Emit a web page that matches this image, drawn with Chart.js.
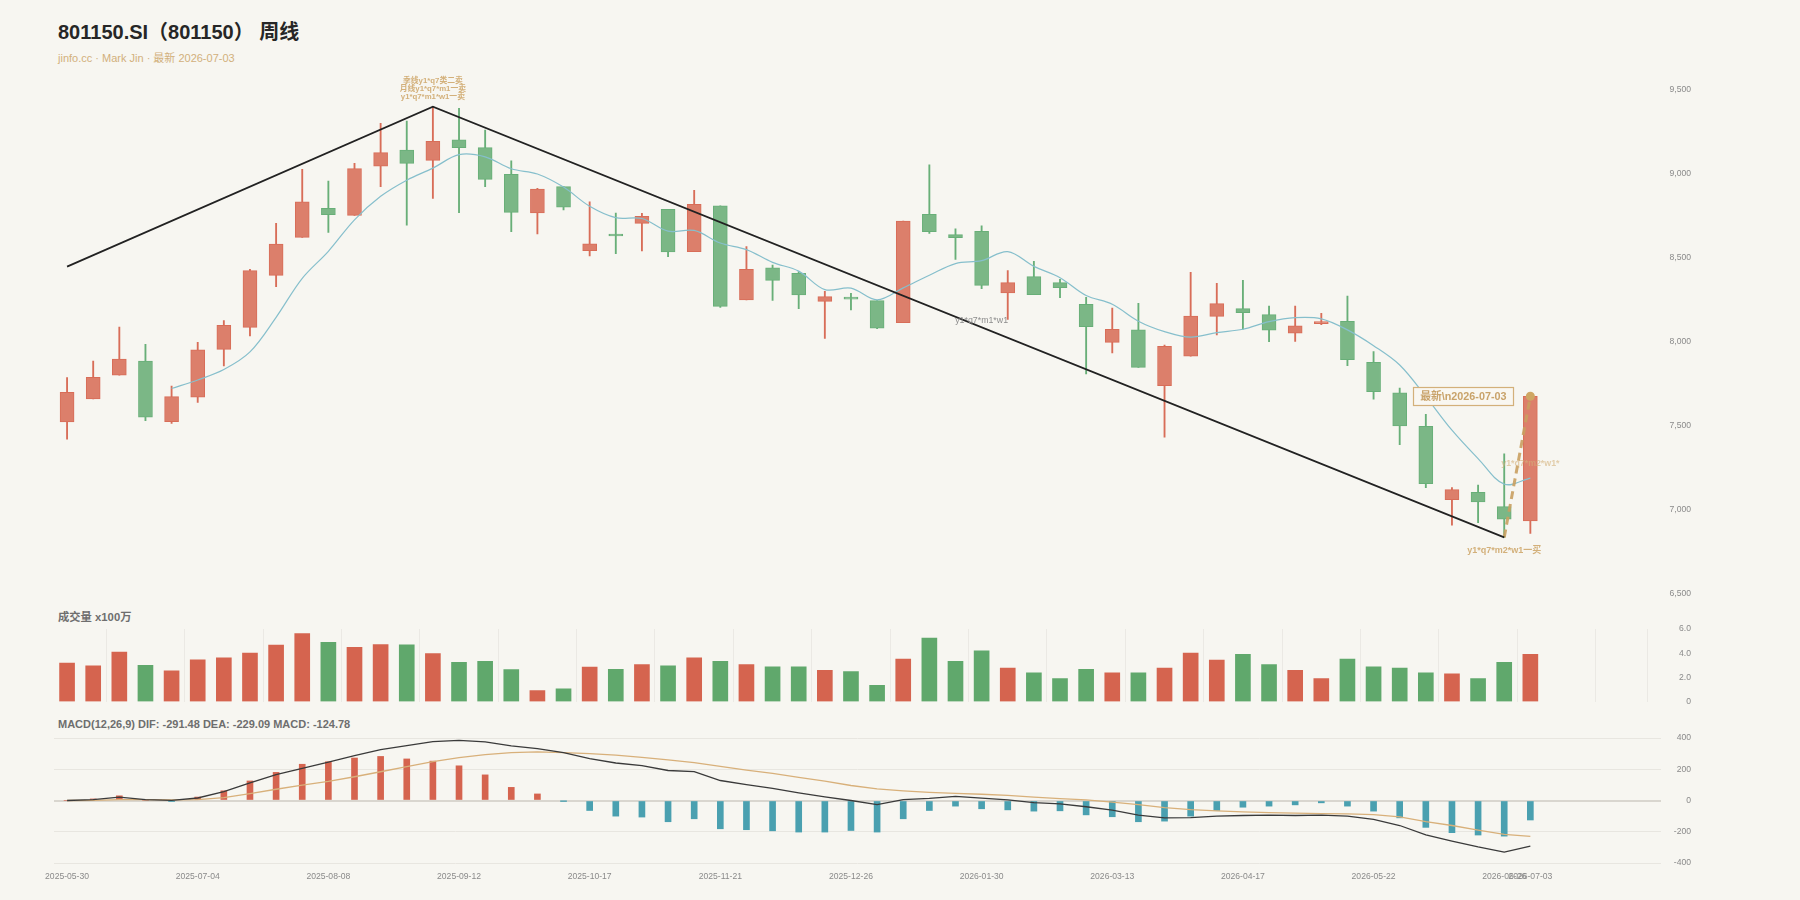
<!DOCTYPE html>
<html><head><meta charset="utf-8">
<script src="https://cdn.jsdelivr.net/npm/chart.js@4.4.1/dist/chart.umd.min.js"></script>
<style>
html,body{margin:0;padding:0;background:#f7f6f1;}
body{width:1800px;height:900px;position:relative;overflow:hidden;font-family:'Liberation Sans','Noto Sans CJK SC',sans-serif;}
.t{position:absolute;white-space:nowrap;}
#title{left:58px;top:19px;font-size:20px;font-weight:bold;color:#262626;line-height:26px;}
#sub{left:58px;top:51px;font-size:11px;color:#d2b07c;line-height:14px;}
#vlab{left:58px;top:610px;font-size:11.3px;font-weight:bold;color:#6e6e6e;line-height:14px;}
#mlab{left:58px;top:717px;font-size:11px;font-weight:bold;color:#6e6e6e;line-height:14px;}
.box{position:absolute;left:0;}
canvas{display:block;}
</style></head>
<body>
<div id="title" class="t">801150.SI（801150） 周线</div>
<div id="sub" class="t">jinfo.cc · Mark Jin · 最新 2026-07-03</div>
<div id="vlab" class="t">成交量 x100万</div>
<div id="mlab" class="t">MACD(12,26,9) DIF: -291.48 DEA: -229.09 MACD: -124.78</div>
<div class="box" style="top:0;width:1800px;height:610px"><canvas id="cMain" width="1800" height="610"></canvas></div>
<div class="box" style="top:600px;width:1800px;height:115px"><canvas id="cVol" width="1800" height="115"></canvas></div>
<div class="box" style="top:715px;width:1800px;height:185px"><canvas id="cMacd" width="1800" height="185"></canvas></div>
<script>
// ---------- data ----------
const dates = ['2025-05-30','2025-06-06','2025-06-13','2025-06-20','2025-06-27','2025-07-04','2025-07-11','2025-07-18','2025-07-25','2025-08-01',
'2025-08-08','2025-08-15','2025-08-22','2025-08-29','2025-09-05','2025-09-12','2025-09-19','2025-09-26','2025-10-03','2025-10-10',
'2025-10-17','2025-10-24','2025-10-31','2025-11-07','2025-11-14','2025-11-21','2025-11-28','2025-12-05','2025-12-12','2025-12-19',
'2025-12-26','2026-01-02','2026-01-09','2026-01-16','2026-01-23','2026-01-30','2026-02-06','2026-02-13','2026-02-27','2026-03-06',
'2026-03-13','2026-03-20','2026-03-27','2026-04-03','2026-04-10','2026-04-17','2026-04-24','2026-04-30','2026-05-08','2026-05-15',
'2026-05-22','2026-05-29','2026-06-05','2026-06-12','2026-06-19','2026-06-26','2026-07-03'];
const openP = [7521,7658,7799,7884,7523,7668,7953,8084,8394,8620,8793,8751,9043,9140,9078,9201,9154,8995,8765,8922,
8541,8634,8703,8787,8535,8807,8247,8438,8406,8239,8260,8243,8112,8757,8636,8656,8289,8386,8350,8221,
7995,8070,7737,7912,8150,8196,8160,8049,8106,8120,7876,7694,7495,7059,7102,7017,6932];
const highP = [7785,7884,8086,7983,7735,7995,8124,8430,8703,9025,8955,9060,9299,9312,9398,9388,9259,9076,8912,8922,
8832,8765,8763,8787,8900,8807,8565,8455,8416,8299,8287,8243,8717,9051,8670,8688,8422,8477,8370,8263,
8199,8227,7979,8412,8346,8364,8211,8211,8168,8271,7940,7723,7567,7130,7146,7332,7674];
const lowP = [7418,7658,7799,7529,7513,7638,7854,8033,8326,8620,8650,8751,8922,8692,8852,8767,8922,8654,8640,8783,
8509,8523,8539,8505,8535,8203,8247,8245,8195,8019,8188,8076,8112,8644,8489,8315,8132,8279,8261,7807,
7932,7846,7430,7912,8039,8074,7999,8001,8100,7856,7656,7386,7130,6906,6922,6834,6858];
const closeP = [7697,7787,7896,7549,7672,7951,8096,8422,8580,8832,8755,9029,9124,9060,9191,9154,8965,8769,8908,8799,
8582,8628,8745,8533,8817,8209,8430,8364,8277,8267,8252,8080,8717,8654,8618,8334,8350,8279,8320,8088,
8072,7846,7971,8152,8225,8172,8068,8094,8118,7892,7701,7497,7154,7118,7045,6942,7674];
const ma5 = [null,null,null,null,7720,7771,7833,7938,8144,8376,8537,8724,8864,8960,9032,9112,9099,9028,8997,8919,
8805,8737,8732,8657,8661,8586,8547,8471,8419,8309,8318,8248,8319,8394,8464,8481,8535,8447,8380,8274,
8222,8121,8059,8026,8053,8073,8118,8142,8135,8069,7975,7860,7672,7472,7303,7151,7187];
const volume = [3.17,2.95,4.10,3.00,2.53,3.44,3.61,4.00,4.66,5.62,4.90,4.49,4.71,4.68,3.97,3.25,3.33,2.64,0.91,1.05,
2.84,2.67,3.05,2.95,3.62,3.33,3.05,2.86,2.86,2.57,2.48,1.33,3.52,5.24,3.33,4.19,2.76,2.38,1.90,2.67,
2.38,2.38,2.76,4.00,3.43,3.90,3.05,2.57,1.90,3.52,2.86,2.76,2.38,2.29,1.90,3.24,3.90];
const dif = [0,6,21,6,1,16,57,113,166,206,245,287,326,351,377,385,375,349,332,306,
268,240,223,192,185,128,102,77,49,23,0,-26,5,13,26,15,4,-13,-21,-40,
-62,-94,-111,-109,-100,-96,-94,-96,-94,-100,-121,-160,-220,-260,-297,-330,-291.48];
const dea = [0,1,5,5,4,6,19,44,72,98,123,152,184,217,249,274,293,307,311,307,
300,290,276,260,243,218,195,173,148,124,96,75,62,52,45,40,33,21,12,4,
-11,-27,-45,-58,-67,-73,-77,-81,-84,-86,-90,-105,-135,-160,-190,-217,-229.09];
const macdHist = [0,10,30,2,-4,22,62,125,180,232,248,272,282,266,252,222,164,84,42,-2,
-64,-100,-106,-136,-117,-181,-187,-194,-202,-202,-192,-202,-117,-64,-36,-53,-60,-68,-66,-92,
-104,-136,-132,-100,-64,-43,-36,-28,-15,-36,-68,-111,-172,-206,-221,-228,-124.78];
// trend lines (index, value)
const trendIdx = [0,14,55];
const trendVal = [8446,9398,6834];
const dashIdx = [55,56];
const dashVal = [6834,7674];
// tick labels
const priceTicks = [6500,7000,7500,8000,8500,9000,9500];
const volTicks = [0,2,4,6];
const macdTicks = [-400,-200,0,200,400];
const dateTickIdx = [0,5,10,15,20,25,30,35,40,45,50,55,56];
const volGridIdx = [0,3,6,9,12,15,18,21,24,27,30,33,36,39,42,45,48,51,54,57,60,61];

// ---------- styling ----------
const FF = "'Liberation Sans','Noto Sans CJK SC',sans-serif";
Chart.defaults.font.family = FF;
Chart.defaults.animation = false;
Chart.defaults.plugins.legend.display = false;
Chart.defaults.plugins.tooltip.enabled = false;
const RED_B='#dc7f6b', GRN_B='#7bb786', RED_W='#d86d58', GRN_W='#68af78';
const RED_V='#d5644f', GRN_V='#60a86c', TEAL='#4aa0b0';
const TAN='#d3b07a';
const XMIN=-0.5, XMAX=61;
const PAD = {left:54, right:109};
const idx = dates.map((d,i)=>i);
const up = idx.map(i=>closeP[i]>=openP[i]);

function xAxis(extra){
  return Object.assign({type:'linear',min:XMIN,max:XMAX,offset:false,bounds:'ticks'},extra);
}
function rightAxis(min,max,ticks,fmt,gridOpts){
  return {position:'right',min:min,max:max,
    afterFit:s=>{s.width=30;},
    afterBuildTicks:s=>{s.ticks=ticks.map(v=>({value:v}));},
    border:{display:false},
    grid:gridOpts||{display:false},
    ticks:{crossAlign:'far',padding:0,color:'#8a8a8a',font:{size:8.6,family:FF},callback:fmt}};
}

// annotation plugin for main chart
const notes = [
  {i:14, v:9398, lines:['季线y1*q7类二卖','月线y1*q7*m1一卖','y1*q7*m1*w1一卖'], color:TAN, font:'bold 7.8px '+FF, dy:-10, lh:8.1},
  {i:35, v:8124, lines:['y1*q7*m1*w1'], color:'#8d8d8d', font:'8.8px '+FF, dy:0, lh:10},
  {i:56, v:7271, lines:['y1*q7*m2*w1*'], color:'rgba(211,176,122,0.6)', font:'bold 8.8px '+FF, dy:0, lh:10},
  {i:55, v:6834, lines:['y1*q7*m2*w1一买'], color:TAN, font:'bold 9px '+FF, dy:13, lh:10}
];
const latestBox = {i:56, v:7674, text:'最新\\n2026-07-03', dx:-67, w:100, h:18};
const notePlugin = {id:'notes', afterDatasetsDraw(chart){
  const ctx=chart.ctx, xs=chart.scales.x, ys=chart.scales.y;
  ctx.save();
  ctx.textAlign='center'; ctx.textBaseline='middle';
  notes.forEach(n=>{
    const x=xs.getPixelForValue(n.i), y=ys.getPixelForValue(n.v)+n.dy;
    ctx.font=n.font; ctx.fillStyle=n.color;
    const L=n.lines.length;
    n.lines.forEach((t,k)=>ctx.fillText(t,x,y-(L-1-k)*n.lh));
  });
  const bx=xs.getPixelForValue(latestBox.i)+latestBox.dx, by=ys.getPixelForValue(latestBox.v);
  ctx.fillStyle='#f9f7f1';
  ctx.fillRect(bx-latestBox.w/2,by-latestBox.h/2,latestBox.w,latestBox.h);
  ctx.strokeStyle='#d3b07a'; ctx.lineWidth=1.2;
  ctx.strokeRect(Math.round(bx-latestBox.w/2)+0.5,Math.round(by-latestBox.h/2)+0.5,latestBox.w,latestBox.h);
  ctx.font='bold 10.8px '+FF; ctx.fillStyle='#c9a36a';
  ctx.fillText(latestBox.text,bx,by+0.5);
  ctx.restore();
}};

// ---------- main chart ----------
new Chart(document.getElementById('cMain'),{
  type:'bar',
  data:{datasets:[
    {type:'line',order:0,data:trendIdx.map((x,k)=>({x:x,y:trendVal[k]})),borderColor:'#222',borderWidth:1.8,pointRadius:0,tension:0},
    {type:'line',order:0,data:dashIdx.map((x,k)=>({x:x,y:dashVal[k]})),borderColor:'rgba(201,160,96,0.9)',borderWidth:3,borderDash:[8,5],
      pointRadius:[0,4.5],pointBackgroundColor:'#cfa764',pointBorderWidth:0,tension:0},
    {type:'line',order:1,data:idx.map(i=>({x:i,y:ma5[i]})),borderColor:'#86bfcc',borderWidth:1.2,pointRadius:0,tension:0.35,spanGaps:false},
    {order:2,grouped:false,data:idx.map(i=>({x:i,y:[openP[i],closeP[i]]})),barThickness:14,minBarLength:2,
      backgroundColor:idx.map(i=>up[i]?RED_B:GRN_B),borderColor:idx.map(i=>up[i]?RED_W:GRN_W),borderWidth:1,borderSkipped:false},
    {order:3,grouped:false,data:idx.map(i=>({x:i,y:[lowP[i],highP[i]]})),barThickness:1.2,
      backgroundColor:idx.map(i=>up[i]?RED_W:GRN_W)}
  ]},
  options:{responsive:false,devicePixelRatio:1,
    layout:{padding:{left:PAD.left,right:PAD.right,top:89.5,bottom:16.5}},
    scales:{
      x:xAxis({display:false}),
      y:rightAxis(6500,9500,priceTicks,v=>v.toLocaleString('en-US'))
    }},
  plugins:[notePlugin]
});

// ---------- volume chart ----------
new Chart(document.getElementById('cVol'),{
  type:'bar',
  data:{datasets:[{data:idx.map(i=>({x:i,y:volume[i]})),barThickness:15,
    backgroundColor:idx.map(i=>up[i]?RED_V:GRN_V)}]},
  options:{responsive:false,devicePixelRatio:1,
    layout:{padding:{left:PAD.left,right:PAD.right,top:29,bottom:13.5}},
    scales:{
      x:xAxis({afterFit:s=>{s.height=0;},
        afterBuildTicks:s=>{s.ticks=volGridIdx.map(v=>({value:v}));},
        border:{display:false},grid:{color:'#ebe9e4',drawTicks:false},ticks:{display:false}}),
      y:rightAxis(0,6,volTicks,v=>v===0?'0':v.toFixed(1))
    }}
});

// ---------- MACD chart ----------
new Chart(document.getElementById('cMacd'),{
  type:'bar',
  data:{datasets:[
    {type:'line',order:0,data:idx.map(i=>({x:i,y:dif[i]})),borderColor:'#3a3a3a',borderWidth:1.3,pointRadius:0,tension:0},
    {type:'line',order:0,data:idx.map(i=>({x:i,y:dea[i]})),borderColor:'#d8b07a',borderWidth:1.3,pointRadius:0,tension:0},
    {order:1,data:idx.map(i=>({x:i,y:macdHist[i]})),barThickness:6,
      backgroundColor:idx.map(i=>macdHist[i]>=0?RED_V:TEAL)}
  ]},
  options:{responsive:false,devicePixelRatio:1,
    layout:{padding:{left:PAD.left,right:PAD.right,top:23,bottom:17}},
    scales:{
      x:xAxis({afterFit:s=>{s.height=20;},
        afterBuildTicks:s=>{s.ticks=dateTickIdx.map(v=>({value:v}));},
        border:{display:false},grid:{display:false,drawTicks:false},
        ticks:{autoSkip:false,maxRotation:0,padding:8,color:'#8a8a8a',font:{size:8.6,family:FF},
          callback:v=>dates[v]||''}}),
      y:rightAxis(-400,400,macdTicks,v=>String(v),
        {color:c=>c.tick&&c.tick.value===0?'#d9d6cf':'#e8e6e0',lineWidth:c=>c.tick&&c.tick.value===0?2:1,drawTicks:false})
    }}
});
</script>
</body></html>
